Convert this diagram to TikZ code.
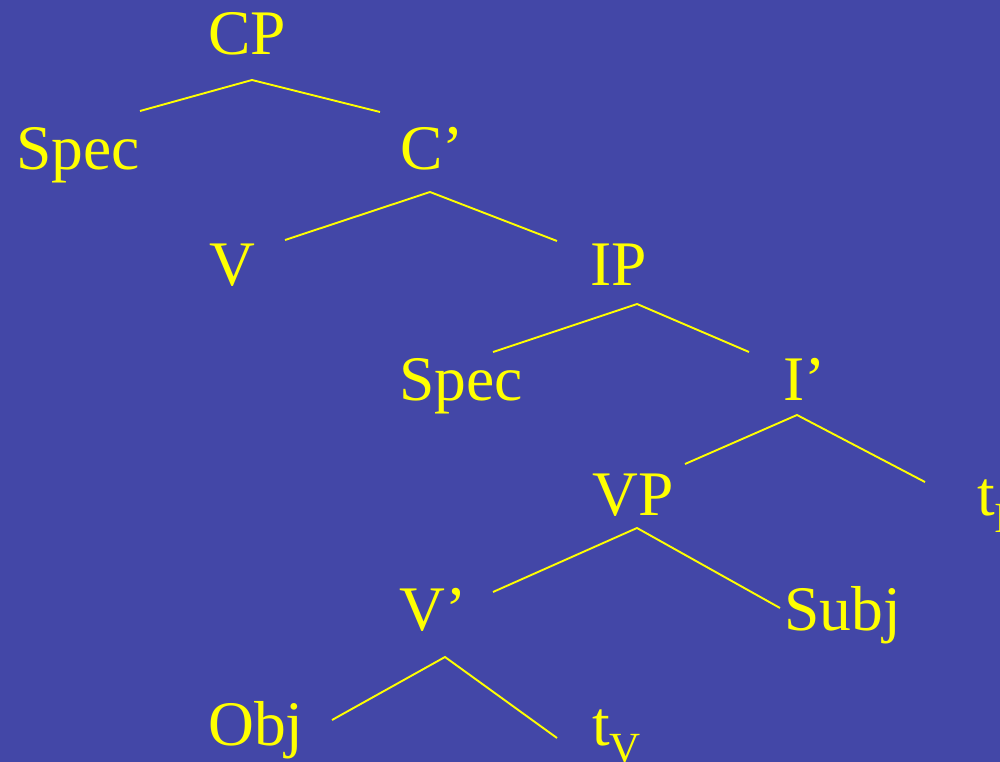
\documentclass[tikz,border=0pt]{standalone}
\usepackage{fontspec}
\setmainfont{Liberation Serif}
\definecolor{slide}{RGB}{67,71,167}
\definecolor{ink}{RGB}{255,255,0}
\newcommand{\subsc}[1]{\raisebox{-17pt}{\fontsize{43}{43}\selectfont #1}}
\tikzset{
  lbl/.style={anchor=base west, inner sep=0pt, text=ink, font=\fontsize{63.5}{70}\selectfont},
  branch/.style={draw=ink, line width=1.9pt, line join=miter}
}
\begin{document}
\begin{tikzpicture}[x=1pt,y=-1pt]
  \fill[slide] (0,0) rectangle (1000,762);
  \useasboundingbox (0,0) rectangle (1000,762);

  % labels, placed by left edge and baseline
  \node[lbl] (cp)    at (208,55)  {CP};
  \node[lbl] (spec1) at (16,170)  {Spec};
  \node[lbl] (cbar)  at (400,170) {C’};
  \node[lbl] (v)     at (209,285) {V};
  \node[lbl] (ip)    at (590,285) {IP};
  \node[lbl] (spec2) at (399,400) {Spec};
  \node[lbl] (ibar)  at (783,400) {I’};
  \node[lbl] (vp)    at (592,515) {VP};
  \node[lbl] (ti)    at (977,515) {t\subsc{I}};
  \node[lbl] (vbar)  at (399,630) {V’};
  \node[lbl] (subj)  at (784,630) {Subj};
  \node[lbl] (obj)   at (208,745) {Obj};
  \node[lbl] (tv)    at (592,745) {t\subsc{V}};

  % branch points and branch ends
  \coordinate (cpA)  at (252,80);  \coordinate (cpL)  at (140,111); \coordinate (cpR)  at (380,112);
  \coordinate (cbA)  at (430,192); \coordinate (cbL)  at (285,240); \coordinate (cbR)  at (557,241);
  \coordinate (ipA)  at (637,304); \coordinate (ipL)  at (493,352); \coordinate (ipR)  at (749,352);
  \coordinate (ibA)  at (797,415); \coordinate (ibL)  at (685,464); \coordinate (ibR)  at (925,482);
  \coordinate (vpA)  at (637,528); \coordinate (vpL)  at (493,592); \coordinate (vpR)  at (780,608);
  \coordinate (vbA)  at (445,657); \coordinate (vbL)  at (332,720); \coordinate (vbR)  at (557,738);

  \draw[branch] (cpL) -- (cpA) -- (cpR);
  \draw[branch] (cbL) -- (cbA) -- (cbR);
  \draw[branch] (ipL) -- (ipA) -- (ipR);
  \draw[branch] (ibL) -- (ibA) -- (ibR);
  \draw[branch] (vpL) -- (vpA) -- (vpR);
  \draw[branch] (vbL) -- (vbA) -- (vbR);
\end{tikzpicture}
\end{document}
